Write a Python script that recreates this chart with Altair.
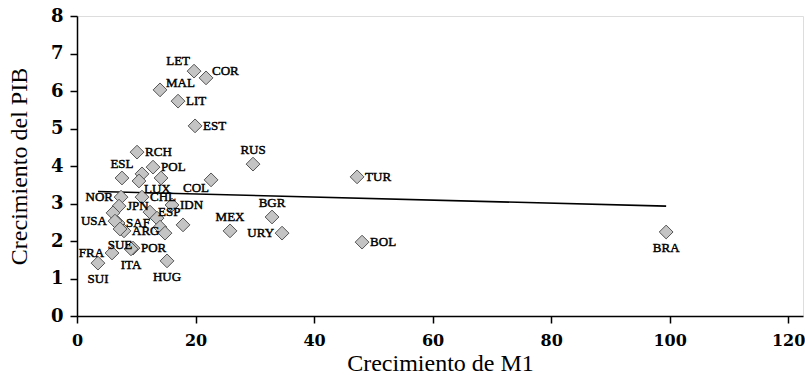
import altair as alt
import pandas as pd

# Country codes (empty string = unlabeled point)
countries = [
    "LET", "COR", "MAL", "LIT", "EST", "RCH", "RUS", "POL", "ESL", "",
    "LUX", "", "COL", "TUR", "CHL", "NOR", "JPN", "", "ESP", "",
    "IDN", "", "SAF", "USA", "ARG", "SUE", "", "", "FRA", "POR",
    "ITA", "HUG", "SUI", "MEX", "BGR", "URY", "BOL", "BRA",
]
# Money growth (M1) and GDP growth
m1_growth = [
    19.75, 21.77, 14.01, 17.05, 19.92, 10.13, 29.70, 12.83, 7.59, 10.97,
    10.46, 14.18, 22.62, 47.26, 10.97, 7.43, 7.09, 6.08, 12.32, 13.50,
    16.03, 17.89, 6.92, 6.41, 7.93, 7.26, 14.01, 14.85, 5.91, 9.45,
    9.11, 15.19, 3.54, 25.82, 32.91, 34.60, 48.10, 99.41,
]
gdp_growth = [
    6.53, 6.35, 6.03, 5.73, 5.07, 4.37, 4.05, 3.97, 3.68, 3.79,
    3.60, 3.68, 3.63, 3.71, 3.17, 3.17, 2.93, 2.75, 2.77, 2.61,
    2.96, 2.43, 2.48, 2.53, 2.27, 2.32, 2.37, 2.21, 1.68, 1.81,
    1.79, 1.47, 1.41, 2.27, 2.64, 2.21, 1.97, 2.24,
]
# Where each country label sits relative to its point
label_side = [
    "tl", "tr", "tr", "r", "r", "r", "t", "r", "t", "",
    "br", "", "bl", "r", "r", "l", "r", "", "r", "",
    "r", "", "r", "l", "r", "b", "", "", "l", "r",
    "b", "b", "b", "t", "t", "l", "r", "b",
]

# Linear trend endpoints
trend_x = [3.54, 99.41]
trend_y = [3.32, 2.93]

x_ticks = [0, 20, 40, 60, 80, 100, 120]
y_ticks = [0, 1, 2, 3, 4, 5, 6, 7, 8]

df = pd.DataFrame({"pais": countries, "m1": m1_growth, "pib": gdp_growth, "lado": label_side})
trend = pd.DataFrame({"m1": trend_x, "pib": trend_y})

SERIF = "Liberation Serif"
SERIF_BOLD = "DejaVu Serif"

x_scale = alt.Scale(domain=[0, 122.5], nice=False, zero=False)
y_scale = alt.Scale(domain=[0, 8], nice=False)

axis_style = dict(
    grid=False, domainColor="black", domainWidth=1.5, tickColor="black",
    tickWidth=1.5, tickSize=7, labelFont=SERIF_BOLD,
    labelFontWeight="bold", labelColor="black", titleFont=SERIF,
    titleFontSize=24, titleFontWeight="normal", titleColor="black",
    labelFlush=False, labelOverlap=False,
)

x_enc = alt.X(
    "m1:Q", scale=x_scale,
    axis=alt.Axis(title="Crecimiento de M1", values=x_ticks, labelPadding=9,
                  labelFontSize=16, titlePadding=3, **axis_style),
)
y_enc = alt.Y(
    "pib:Q", scale=y_scale,
    axis=alt.Axis(title="Crecimiento del PIB", values=y_ticks, labelPadding=7,
                  labelFontSize=18, titlePadding=19, **axis_style),
)

points = alt.Chart(df).mark_point(
    shape="diamond", size=190, filled=True, fill="#c4c4c4",
    stroke="#555555", strokeWidth=1, opacity=1,
).encode(x=x_enc, y=y_enc)

line = alt.Chart(trend).mark_line(color="black", strokeWidth=1.6).encode(x=x_enc, y=y_enc)

# label placement: (align, baseline, dx, dy)
placements = {
    "r": ("left", "middle", 8, 0),
    "l": ("right", "middle", -8, 0),
    "t": ("center", "middle", 0, -14),
    "b": ("center", "middle", 0, 16),
    "tl": ("right", "middle", -4, -10),
    "tr": ("left", "middle", 6, -7),
    "bl": ("right", "middle", -2, 8),
    "br": ("left", "middle", 5, 8),
}

labels = []
for side, (align, baseline, dx, dy) in placements.items():
    labels.append(
        alt.Chart(df).transform_filter(alt.datum.lado == side).mark_text(
            align=align, baseline=baseline, dx=dx, dy=dy, font=SERIF,
            fontSize=13, color="black", stroke="black", strokeWidth=0.45,
        ).encode(x=x_enc, y=y_enc, text="pais:N")
    )

chart = alt.layer(line, points, *labels).properties(
    width=726, height=300,
    autosize=alt.AutoSizeParams(type="none"),
    padding={"left": 77, "top": 16, "right": 2, "bottom": 61},
).configure_view(stroke=None).configure(background="white")

chart.save("out.html", embed_options={"renderer": "svg", "actions": False})
